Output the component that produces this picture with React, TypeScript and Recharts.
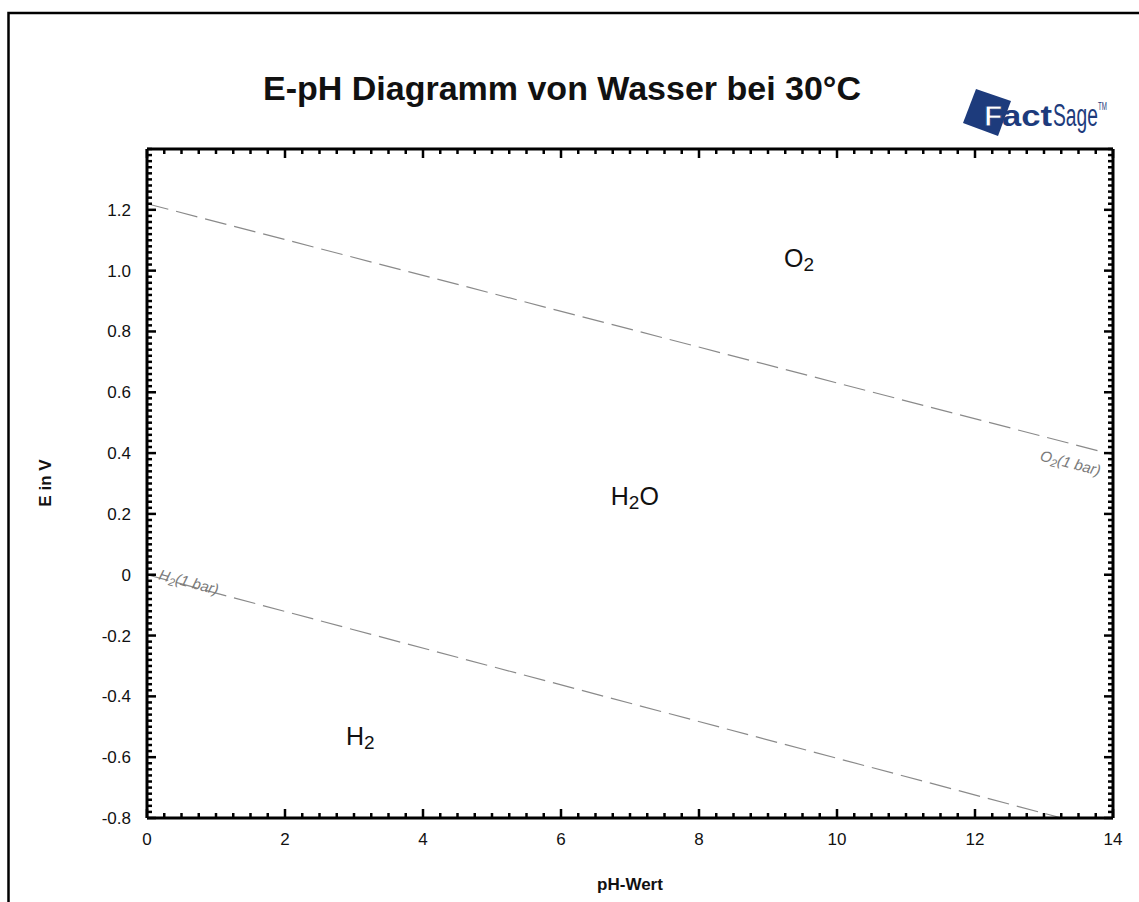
import React from 'react';
import { LineChart, Line, XAxis, YAxis, ReferenceDot } from 'recharts';

// Pourbaix (E-pH) diagram of water at 30 °C
const W = 1139;
const H = 902;
const FONT = '"Liberation Sans", Arial, Helvetica, sans-serif';

// Stability limits of water: endpoints of each boundary line
const pHPoints = [0, 14];
const o2Boundary = [1.22, 0.395]; // O2(1 bar) / H2O
const h2Boundary = [0, -0.845]; // H2O / H2(1 bar)

// Axis ranges and labelled ticks
const xDomain: [number, number] = [0, 14];
const yDomain: [number, number] = [-0.8, 1.4];
const xMajorTicks = [0, 2, 4, 6, 8, 10, 12, 14];
const yMajorTicks = [-0.8, -0.6, -0.4, -0.2, 0, 0.2, 0.4, 0.6, 0.8, 1.0, 1.2];
const xMinorStep = 0.25;
const yMinorStep = 0.02;

// Region names and where they sit (pH, E)
const regions = [
  { name: 'O', sub: '2', tail: '', pH: 9.45, E: 1.04 },
  { name: 'H', sub: '2', tail: 'O', pH: 7.07, E: 0.26 },
  { name: 'H', sub: '2', tail: '', pH: 3.09, E: -0.53 },
];

const o2Data = pHPoints.map((p, i) => ({ pH: p, E: o2Boundary[i] }));
const h2Data = pHPoints.map((p, i) => ({ pH: p, E: h2Boundary[i] }));

function stepTicks(lo: number, hi: number, step: number): number[] {
  const n = Math.round((hi - lo) / step);
  const out: number[] = [];
  for (let i = 0; i <= n; i++) out.push(Math.round((lo + i * step) * 1000) / 1000);
  return out;
}
const xTicks = stepTicks(xDomain[0], xDomain[1], xMinorStep);
const yTicks = stepTicks(yDomain[0], yDomain[1], yMinorStep);

const isMajor = (v: number, majors: number[]) => majors.some((m) => Math.abs(m - v) < 1e-6);
const fmtY = (v: number) => (Math.abs(v) < 1e-9 ? '0' : v.toFixed(1));

const MINOR = 5;
const MAJOR = 9;
const TICK_FONT = 17;

const BottomTick = (props: any) => {
  const { x, y, payload } = props;
  const v = payload.value;
  const major = isMajor(v, xMajorTicks);
  return (
    <g>
      <line x1={x} x2={x} y1={y} y2={y - (major ? MAJOR : MINOR)} stroke="#000" strokeWidth={2.5} />
      {major && (
        <text x={x} y={y + 27} textAnchor="middle" fontSize={TICK_FONT} fontFamily={FONT} fill="#111">
          {String(v)}
        </text>
      )}
    </g>
  );
};

const TopTick = (props: any) => {
  const { x, y, payload } = props;
  const major = isMajor(payload.value, xMajorTicks);
  return <line x1={x} x2={x} y1={y} y2={y + (major ? MAJOR : MINOR)} stroke="#000" strokeWidth={2.5} />;
};

const LeftTick = (props: any) => {
  const { x, y, payload } = props;
  const v = payload.value;
  const major = isMajor(v, yMajorTicks);
  return (
    <g>
      <line x1={x} x2={x + (major ? MAJOR : MINOR)} y1={y} y2={y} stroke="#000" strokeWidth={2.5} />
      {major && (
        <text x={x - 16} y={y + 6} textAnchor="end" fontSize={TICK_FONT} fontFamily={FONT} fill="#111">
          {fmtY(v)}
        </text>
      )}
    </g>
  );
};

const RightTick = (props: any) => {
  const { x, y, payload } = props;
  const major = isMajor(payload.value, yMajorTicks);
  return <line x1={x} x2={x - (major ? MAJOR : MINOR)} y1={y} y2={y} stroke="#000" strokeWidth={2.5} />;
};

const RegionLabel = ({ cx, cy, item }: any) => (
  <text x={cx} y={cy + 9} textAnchor="middle" fontSize={25} fontFamily={FONT} fill="#111">
    {item.name}
    <tspan fontSize={19} dy={4}>{item.sub}</tspan>
    {item.tail && <tspan fontSize={25} dy={-4}>{item.tail}</tspan>}
  </text>
);

const BoundaryLabel = ({ cx, cy, text, anchor }: any) => (
  <text
    x={cx}
    y={cy}
    transform={`rotate(14.7 ${cx} ${cy})`}
    textAnchor={anchor}
    fontSize={15}
    fontStyle="italic"
    fontFamily={FONT}
    fill="#7a7a7a"
  >
    {text[0]}
    <tspan fontSize={11} dy={3}>2</tspan>
    <tspan dy={-3}>{text[1]}</tspan>
  </text>
);

const Logo = () => (
  <g>
    <polygon points="976,89 1011,101 998,136 963,123" fill="#1d3b7c" />
    <text x={984} y={126} fontFamily={FONT} fontWeight="bold" fontSize={30} fill="#fff" stroke="#1d3b7c" strokeWidth={1}>
      F
    </text>
    <text
      x={1002}
      y={126}
      fontFamily={FONT}
      fontWeight="bold"
      fontSize={30}
      fill="#1d3b7c"
      textLength={50}
      lengthAdjust="spacingAndGlyphs"
    >
      act
    </text>
    <text transform="translate(1053 126) scale(0.62 1)" fontFamily={FONT} fontSize={31} fill="#1d3b7c">
      Sage
      <tspan fontSize={10} dy={-16}>TM</tspan>
    </text>
  </g>
);

export default function App() {
  return (
    <div style={{ position: 'absolute', left: 0, top: 0, width: W, height: H, background: '#fff', overflow: 'hidden' }}>
      <LineChart width={W} height={H} margin={{ top: 0, right: 0, bottom: 0, left: 0 }}>
        <XAxis
          xAxisId="b"
          type="number"
          dataKey="pH"
          domain={xDomain}
          allowDataOverflow
          ticks={xTicks}
          interval={0}
          height={84}
          tickSize={0}
          tickMargin={0}
          tick={<BottomTick />}
          axisLine={{ stroke: '#000', strokeWidth: 3 }}
          tickLine={false}
        />
        <XAxis
          xAxisId="t"
          orientation="top"
          type="number"
          dataKey="pH"
          domain={xDomain}
          allowDataOverflow
          ticks={xTicks}
          interval={0}
          height={149}
          tickSize={0}
          tickMargin={0}
          tick={<TopTick />}
          axisLine={{ stroke: '#000', strokeWidth: 3 }}
          tickLine={false}
        />
        <YAxis
          yAxisId="l"
          type="number"
          domain={yDomain}
          allowDataOverflow
          ticks={yTicks}
          interval={0}
          width={147}
          tickSize={0}
          tickMargin={0}
          tick={<LeftTick />}
          axisLine={{ stroke: '#000', strokeWidth: 3 }}
          tickLine={false}
        />
        <YAxis
          yAxisId="r"
          orientation="right"
          type="number"
          domain={yDomain}
          allowDataOverflow
          ticks={yTicks}
          interval={0}
          width={26}
          tickSize={0}
          tickMargin={0}
          tick={<RightTick />}
          axisLine={{ stroke: '#000', strokeWidth: 3 }}
          tickLine={false}
        />
        <Line
          xAxisId="b"
          yAxisId="l"
          data={o2Data}
          dataKey="E"
          type="linear"
          stroke="#8a8a8a"
          strokeWidth={1.2}
          strokeDasharray="22 8"
          dot={false}
          activeDot={false}
          isAnimationActive={false}
        />
        <Line
          xAxisId="b"
          yAxisId="l"
          data={h2Data}
          dataKey="E"
          type="linear"
          stroke="#8a8a8a"
          strokeWidth={1.2}
          strokeDasharray="22 8"
          dot={false}
          activeDot={false}
          isAnimationActive={false}
        />
        {regions.map((r, i) => (
          <ReferenceDot
            key={i}
            xAxisId="b"
            yAxisId="l"
            x={r.pH}
            y={r.E}
            r={0}
            ifOverflow="visible"
            shape={(p: any) => <RegionLabel cx={p.cx} cy={p.cy} item={r} />}
          />
        ))}
        <ReferenceDot
          xAxisId="b"
          yAxisId="l"
          x={13.8}
          y={0.325}
          r={0}
          ifOverflow="visible"
          shape={(p: any) => <BoundaryLabel cx={p.cx} cy={p.cy} text={['O', '(1 bar)']} anchor="end" />}
        />
        <ReferenceDot
          xAxisId="b"
          yAxisId="l"
          x={0.16}
          y={-0.015}
          r={0}
          ifOverflow="visible"
          shape={(p: any) => <BoundaryLabel cx={p.cx} cy={p.cy} text={['H', '(1 bar)']} anchor="start" />}
        />
      </LineChart>
      <svg width={W} height={H} style={{ position: 'absolute', left: 0, top: 0, pointerEvents: 'none' }}>
        <path d={`M 8.5 ${H} L 8.5 13 L ${W} 13`} fill="none" stroke="#000" strokeWidth={2.5} />
        <text x={562} y={100} textAnchor="middle" fontFamily={FONT} fontWeight="bold" fontSize={34} fill="#111">
          E-pH Diagramm von Wasser bei 30°C
        </text>
        <Logo />
        <text x={630} y={890} textAnchor="middle" fontFamily={FONT} fontWeight="bold" fontSize={17} fill="#111">
          pH-Wert
        </text>
        <text
          x={51}
          y={483}
          textAnchor="middle"
          transform="rotate(-90 51 483)"
          fontFamily={FONT}
          fontWeight="bold"
          fontSize={17}
          fill="#111"
        >
          E in V
        </text>
      </svg>
    </div>
  );
}
